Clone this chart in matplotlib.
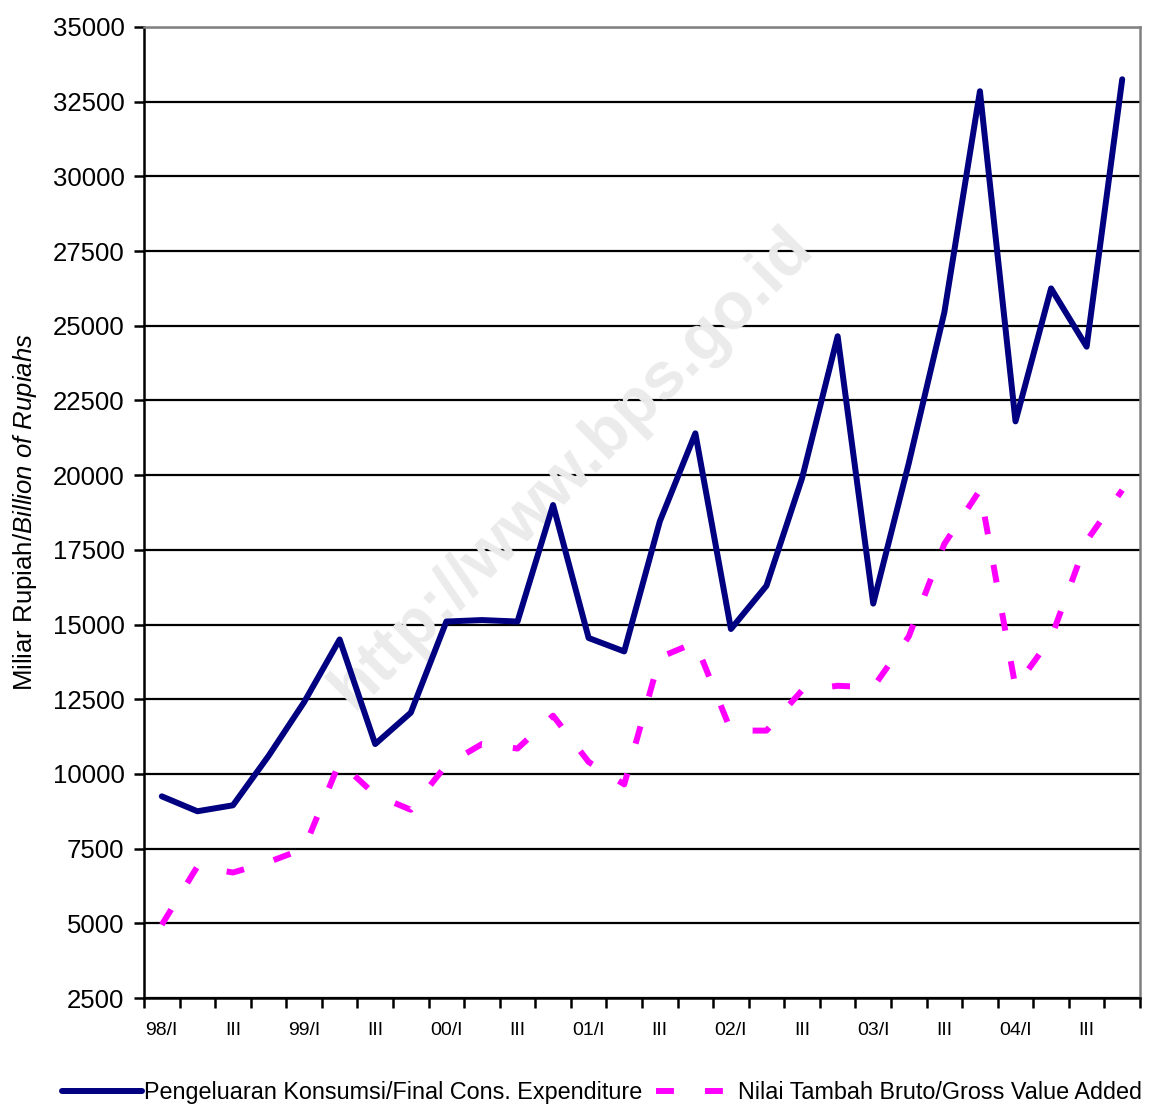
import matplotlib
matplotlib.use("Agg")
import matplotlib.pyplot as plt
import numpy as np

plt.rcParams['font.family'] = ['Liberation Sans', 'DejaVu Sans']
plt.rcParams['mathtext.fontset'] = 'custom'
plt.rcParams['mathtext.rm'] = 'Liberation Sans'
plt.rcParams['mathtext.it'] = 'Liberation Sans:italic'

quarters = []
for yr in ["98", "99", "00", "01", "02", "03", "04"]:
    for q in ["I", "II", "III", "IV"]:
        quarters.append(f"{yr}/{q}")

consumption = [9250, 8750, 8950, 10600, 12400, 14500, 11000, 12050,
               15100, 15150, 15100, 19000, 14550, 14100, 18450, 21400,
               14850, 16300, 19900, 24650, 15700, 20400, 25450, 32850,
               21800, 26250, 24300, 33250]
gross_value_added = [4950, 6900, 6700, 7050, 7500, 10400, 9300, 8800,
                     10300, 11000, 10850, 11950, 10400, 9650, 13900, 14400,
                     11450, 11450, 12800, 12950, 12900, 14600, 17700, 19500,
                     12900, 14550, 17800, 19500]
tick_labels = ["98/I", "III", "99/I", "III", "00/I", "III", "01/I", "III",
               "02/I", "III", "03/I", "III", "04/I", "III"]
label_names = ["Pengeluaran Konsumsi/Final Cons. Expenditure",
               "Nilai Tambah Bruto/Gross Value Added"]

fig = plt.figure(figsize=(11.58, 11.06), dpi=100)
ax = fig.add_axes([144/1158, 1-998/1106, (1140-144)/1158, (998-27)/1106])

x = np.arange(len(quarters))
l1, = ax.plot(x, consumption, color='#000080', lw=4.3, solid_joinstyle='round',
              solid_capstyle='round', zorder=4, label=label_names[0])
l2, = ax.plot(x, gross_value_added, color='#FF00FF', lw=4.3, zorder=3,
              label=label_names[1], dash_capstyle='butt')
l2.set_dashes((3.0, 5.2))

ax.set_xlim(-0.5, len(quarters) - 0.5)
ax.set_ylim(2500, 35000)
ax.set_yticks(np.arange(2500, 35001, 2500))
ax.set_yticklabels([str(v) for v in range(2500, 35001, 2500)], fontsize=18.5)
ax.yaxis.grid(True, color='black', lw=1.6)
ax.set_axisbelow(True)

ax.set_xticks(np.arange(-0.5, len(quarters), 1))
ax.set_xticklabels([])
ax.set_xticks(np.arange(0, len(quarters), 2), minor=True)
ax.set_xticklabels(tick_labels, minor=True, fontsize=14)
ax.tick_params(axis='x', which='minor', length=0, pad=17)
ax.tick_params(axis='x', which='major', length=7, width=1.8, direction='out')
ax.tick_params(axis='y', which='major', length=7, width=1.8, direction='out', pad=7)

for s in ['left', 'bottom']:
    ax.spines[s].set_linewidth(1.8)
for s in ['top', 'right']:
    ax.spines[s].set_color('#808080')
    ax.spines[s].set_linewidth(1.8)

ax.set_ylabel(r"Miliar Rupiah/$\mathit{Billion\ of\ Rupiahs}$", fontsize=18.5, labelpad=10)

ax.text(0.43, 0.545, "http://www.bps.go.id", transform=ax.transAxes, rotation=45,
        fontsize=48, fontweight='bold', color='#ebebeb', ha='center', va='center',
        zorder=1)

leg = fig.legend(handles=[l1, l2], loc='lower center', bbox_to_anchor=(0.52, -0.017),
                 ncol=2, frameon=False, fontsize=16.8, handlelength=3.4,
                 handletextpad=0.1, columnspacing=0.6)

fig.savefig("out.png", dpi=100)
